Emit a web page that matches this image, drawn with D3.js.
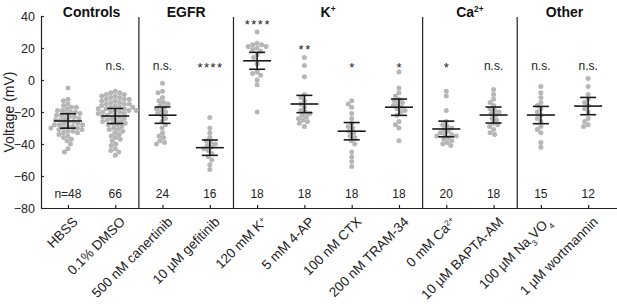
<!DOCTYPE html>
<html>
<head>
<meta charset="UTF-8">
<script src="https://d3js.org/d3.v7.min.js"></script>
<style>
  body { margin: 0; background: #fff; font-family: Arial, "Liberation Sans", sans-serif; }
  svg { display: block; }
</style>
</head>
<body>
<svg id="chart"></svg>
<script>
// label parts: [text, "sup"|"sub"|undefined]
const categories = [
  [["HBSS"]],
  [["0.1% DMSO"]],
  [["500 nM canertinib"]],
  [["10 µM gefitinib"]],
  [["120 mM K"], ["+", "sup"]],
  [["5 mM 4-AP"]],
  [["100 nM CTX"]],
  [["200 nM TRAM-34"]],
  [["0 mM Ca"], ["2+", "sup"]],
  [["10 µM BAPTA-AM"]],
  [["100 µM Na"], ["3", "sub"], ["VO"], ["4", "sub"]],
  [["1 µM wortmannin"]]
];

const voltages = [
  [-5,-12,-13,-15,-16,-17,-17,-18,-19,-19,-20,-20,-21,-21,-22,-22,-23,-23,-24,-24,-25,-25,-26,-26,-27,-27,-28,-28,-28,-29,-29,-30,-30,-30,-31,-31,-32,-32,-33,-33,-34,-35,-36,-37,-38,-40,-43,-45],
  [-7,-8,-8,-9,-9,-10,-10,-11,-11,-12,-12,-12,-13,-13,-14,-14,-15,-15,-15,-16,-16,-17,-17,-17,-18,-18,-18,-19,-19,-19,-20,-20,-20,-21,-21,-22,-22,-23,-23,-24,-24,-25,-25,-26,-26,-27,-27,-28,-28,-29,-30,-31,-31,-32,-33,-34,-35,-36,-37,-38,-40,-41,-43,-44,-45,-47],
  [-2,-7,-8,-11,-13,-14,-15,-16,-17,-18,-19,-20,-21,-22,-24,-26,-28,-30,-33,-35,-36,-38,-39,-40],
  [-23.5,-30,-33,-36,-38,-39,-40,-41,-42,-43,-44,-46,-48,-50,-53,-56],
  [30,23,22,22,21,21,20,19,18,16,14,10,5,4,3,0,-3,-20],
  [14,9,2,-9,-11,-13,-15,-17,-19,-20,-21,-22,-23,-24,-25,-26,-27,-29],
  [-13,-15,-17,-21,-24,-27,-29,-30,-32,-33,-35,-36,-38,-40,-45,-48,-51,-54],
  [5,-5,-8,-10,-12,-13,-14,-15,-16,-17,-18,-19,-20,-22,-26,-28,-30,-38],
  [-7,-10,-19,-26,-28,-29,-30,-31,-32,-33,-34,-34,-35,-35,-36,-37,-38,-39,-40,-41],
  [-6,-9,-12,-14,-16,-18,-19,-20,-21,-22,-24,-25,-27,-28,-29,-31,-33,-34],
  [-4,-8,-11,-14,-16,-18,-20,-22,-24,-26,-29,-31,-33,-39,-42],
  [1,-4,-9,-12,-14,-16,-18,-20,-24,-26,-28,-29]
];

const means = [-25.6, -22.5, -22, -42.3, 12, -15, -32, -17, -30.6, -21.9, -21.9, -16.3];
const errs  = [4.5, 4.7, 5.1, 4.8, 5.3, 5.4, 5.4, 5.1, 4.9, 5.0, 5.4, 5.4];

const sigLabels = ["", "n.s.", "n.s.", "****", "****", "**", "*", "*", "*", "n.s.", "n.s.", "n.s."];
const sigY      = [0, 6, 6, 5, 32, 16, 5, 5, 5, 6, 6, 6];
const nLabels   = ["n=48", "66", "24", "16", "18", "18", "18", "18", "20", "18", "15", "12"];

const groupNames = [[["Controls"]], [["EGFR"]], [["K"], ["+", "sup"]], [["Ca"], ["2+", "sup"]], [["Other"]]];
const groupCenters = [0.5, 2.5, 5.5, 8.5, 10.5];
const dividers = [1.5, 3.5, 7.5, 9.5];
const yTicks = [40, 20, 0, -20, -40, -60, -80];

const W = 617, H = 304;
const svg = d3.select("#chart").attr("width", W).attr("height", H)
  .attr("font-family", "Arial, 'Liberation Sans', sans-serif");

const x = d3.scaleLinear().domain([-0.57, 11.61]).range([41, 617]);
const y = d3.scaleLinear().domain([-80, 40]).range([208, 16]);

function richText(sel, parts, size) {
  parts.forEach(p => {
    const t = sel.append("tspan").text(p[0]);
    if (p[1] === "sup") t.attr("font-size", size * 0.6).attr("baseline-shift", "super");
    else if (p[1] === "sub") t.attr("font-size", size * 0.6).attr("baseline-shift", "sub");
  });
}

// axes
const yAxis = svg.append("g")
  .attr("transform", `translate(${x.range()[0]},0)`)
  .call(d3.axisLeft(y).tickValues(yTicks).tickSizeInner(-3).tickSizeOuter(0).tickPadding(6));
const xAxis = svg.append("g")
  .attr("transform", `translate(0,${y(-80)})`)
  .call(d3.axisBottom(x).tickValues(d3.range(categories.length)).tickSizeInner(-3).tickSizeOuter(0).tickFormat(""));
[yAxis, xAxis].forEach(g => {
  g.selectAll("path, line").attr("stroke", "#222").attr("stroke-width", 1.2);
});
yAxis.selectAll("text").attr("font-size", 12.5).attr("fill", "#222")
  .attr("font-family", "Arial, 'Liberation Sans', sans-serif");

// x labels
categories.forEach((parts, i) => {
  const t = svg.append("text")
    .attr("transform", `translate(${x(i) + 4},${y(-80) + 8}) rotate(-45)`)
    .attr("text-anchor", "end")
    .attr("dy", "0.7em")
    .attr("font-size", 13.5)
    .attr("fill", "#222");
  richText(t, parts, 13.5);
});

// y title
svg.append("text")
  .attr("transform", `translate(14,${(y(40) + y(-80)) / 2}) rotate(-90)`)
  .attr("text-anchor", "middle")
  .attr("font-size", 14)
  .attr("fill", "#222")
  .text("Voltage (mV)");

// dividers
dividers.forEach(d => {
  svg.append("line")
    .attr("x1", x(d)).attr("x2", x(d))
    .attr("y1", 17).attr("y2", y(-80))
    .attr("stroke", "#222").attr("stroke-width", 1.2);
});

// group titles
groupNames.forEach((parts, i) => {
  const t = svg.append("text")
    .attr("x", x(groupCenters[i])).attr("y", 17)
    .attr("text-anchor", "middle")
    .attr("font-size", 14).attr("font-weight", "bold")
    .attr("fill", "#111");
  richText(t, parts, 14);
});

// beeswarm
const r = 2.5;
voltages.forEach((vals, i) => {
  const cx0 = x(i);
  const placed = [];
  vals.slice().sort((a, b) => b - a).forEach(v => {
    const cy = y(v);
    let best = cx0;
    for (let k = 0; k < 200; k++) {
      const off = (k % 2 === 0 ? 1 : -1) * Math.ceil(k / 2) * 0.5;
      const ok = placed.every(p => (p.x - (cx0 + off)) ** 2 + (p.y - cy) ** 2 >= (2 * r - 0.4) ** 2);
      if (ok) { best = cx0 + off; break; }
    }
    placed.push({ x: best, y: cy });
  });
  svg.append("g").selectAll("circle")
    .data(placed).enter().append("circle")
    .attr("cx", d => d.x).attr("cy", d => d.y).attr("r", r)
    .attr("fill", "#b6b6b6");
});

// mean and error bars
const g = svg.append("g").attr("stroke", "#1a1a1a").attr("stroke-width", 1.6);
means.forEach((m, i) => {
  const cx = x(i);
  g.append("line").attr("x1", cx - 14).attr("x2", cx + 14).attr("y1", y(m)).attr("y2", y(m));
  g.append("line").attr("x1", cx).attr("x2", cx).attr("y1", y(m + errs[i])).attr("y2", y(m - errs[i]));
  g.append("line").attr("x1", cx - 8).attr("x2", cx + 8).attr("y1", y(m + errs[i])).attr("y2", y(m + errs[i]));
  g.append("line").attr("x1", cx - 8).attr("x2", cx + 8).attr("y1", y(m - errs[i])).attr("y2", y(m - errs[i]));
});

// significance labels
sigLabels.forEach((s, i) => {
  const stars = s.startsWith("*");
  svg.append("text")
    .attr("x", x(i) + (stars ? 0.75 : 0)).attr("y", y(sigY[i]))
    .attr("text-anchor", "middle")
    .attr("font-size", stars ? 13 : 12)
    .attr("letter-spacing", stars ? 1.5 : 0)
    .attr("fill", "#222")
    .text(s);
});

// n labels
nLabels.forEach((s, i) => {
  svg.append("text")
    .attr("x", x(i)).attr("y", y(-74))
    .attr("text-anchor", "middle").attr("font-size", 12).attr("fill", "#222")
    .text(s);
});
</script>
</body>
</html>
